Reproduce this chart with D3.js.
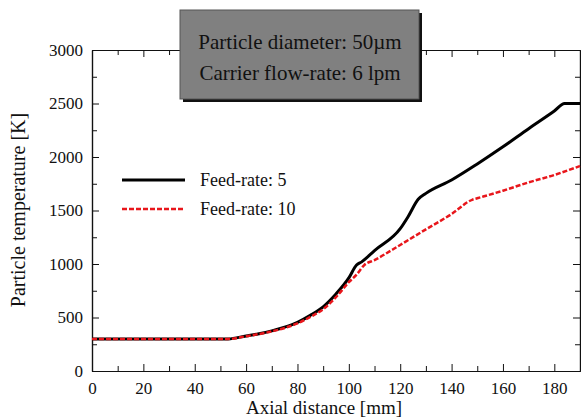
<!DOCTYPE html>
<head>
  <meta charset="utf-8">
  <script src="https://d3js.org/d3.v7.min.js"></script>
  <style>
    body { margin:0; background:white; }
    svg, svg text { font-family: "Liberation Serif", "Times New Roman", serif; }
  </style>
</head>
<body>
  <script>
    // Feed-rate 5
    var dist5 = [0, 20, 40, 53, 60, 65, 70, 75, 80, 85, 90, 95, 100, 103, 105, 110, 120, 123, 127, 130, 140, 150, 160, 170, 180, 184, 190];
    var temp5 = [300, 300, 300, 300, 328, 348, 375, 410, 455, 520, 600, 720, 870, 990, 1020, 1125, 1330, 1440, 1605, 1660, 1785, 1935, 2095, 2265, 2430, 2500, 2500];
    // Feed-rate 10
    var dist10 = [0, 20, 40, 53, 60, 65, 70, 75, 80, 85, 90, 95, 100, 103, 106, 110, 120, 130, 140, 148, 150, 160, 170, 180, 190];
    var temp10 = [300, 300, 300, 300, 325, 345, 370, 402, 445, 505, 578, 690, 830, 900, 990, 1037, 1178, 1324, 1467, 1600, 1614, 1685, 1763, 1832, 1916];
    var legendLabels = ["Feed-rate: 5", "Feed-rate: 10"];
    var boxLines = ["Particle diameter: 50\u00b5m", "Carrier flow-rate: 6 lpm"];

    var svg = d3.select("body").append("svg")
      .attr("width", 581)
      .attr("height", 418)

    var mLeft = 92, mRight = 580, mTop = 50, mBottom = 371;

    var x = d3.scaleLinear().domain([0, 190]).range([mLeft, mRight])
    var y = d3.scaleLinear().domain([0, 3000]).range([mBottom, mTop])

    // minor ticks
    var xMinor = d3.range(10, 190, 20), yMinor = d3.range(250, 3000, 500);

    svg.append("g")
      .attr("transform", "translate(0," + mBottom + ")")
      .call(d3.axisBottom(x).tickValues(d3.range(0, 190, 20)).tickSizeInner(-7).tickSizeOuter(0).tickPadding(11))
    svg.append("g")
      .attr("transform", "translate(0," + mBottom + ")")
      .call(d3.axisBottom(x).tickValues(xMinor).tickSizeInner(-5).tickSizeOuter(0).tickFormat(""))
    svg.append("g")
      .attr("transform", "translate(0," + mTop + ")")
      .call(d3.axisTop(x).tickValues(d3.range(0, 190, 20)).tickSizeInner(-7).tickSizeOuter(0).tickFormat(""))
    svg.append("g")
      .attr("transform", "translate(0," + mTop + ")")
      .call(d3.axisTop(x).tickValues(xMinor).tickSizeInner(-5).tickSizeOuter(0).tickFormat(""))

    svg.append("g")
      .attr("transform", "translate(" + mLeft + ",0)")
      .call(d3.axisLeft(y).tickValues(d3.range(0, 3001, 500)).tickFormat(d3.format("d")).tickSizeInner(-7).tickSizeOuter(0).tickPadding(9))
    svg.append("g")
      .attr("transform", "translate(" + mLeft + ",0)")
      .call(d3.axisLeft(y).tickValues(yMinor).tickSizeInner(-5).tickSizeOuter(0).tickFormat(""))
    svg.append("g")
      .attr("transform", "translate(" + mRight + ",0)")
      .call(d3.axisRight(y).tickValues(d3.range(0, 3001, 500)).tickSizeInner(-7).tickSizeOuter(0).tickFormat(""))
    svg.append("g")
      .attr("transform", "translate(" + mRight + ",0)")
      .call(d3.axisRight(y).tickValues(yMinor).tickSizeInner(-5).tickSizeOuter(0).tickFormat(""))

    svg.selectAll("g").attr("font-family", null)
    svg.selectAll(".domain").attr("stroke", "#111").attr("stroke-width", 1.2)
    svg.selectAll(".tick line").attr("stroke", "#111")
    svg.selectAll(".tick text")
      .attr("font-size", 17)
      .attr("fill", "#111")

    var line = d3.line()
      .x(function(d) { return x(d[0]); })
      .y(function(d) { return y(d[1]); })
      .curve(d3.curveMonotoneX)

    svg.append("path")
      .datum(d3.zip(dist5, temp5))
      .attr("d", line)
      .attr("fill", "none")
      .attr("stroke", "black")
      .attr("stroke-width", 3)

    svg.append("path")
      .datum(d3.zip(dist10, temp10))
      .attr("d", line)
      .attr("fill", "none")
      .attr("stroke", "#e8161b")
      .attr("stroke-width", 2.5)
      .attr("stroke-dasharray", "5,2")

    // legend
    var lg = svg.selectAll(".legend").data(legendLabels).enter().append("g")
      .attr("transform", function(d, i) { return "translate(0," + (180 + i * 29) + ")"; })
    lg.append("line")
      .attr("x1", 122).attr("x2", 185)
      .attr("stroke", function(d, i) { return i ? "#e8161b" : "black"; })
      .attr("stroke-width", function(d, i) { return i ? 2.5 : 3; })
      .attr("stroke-dasharray", function(d, i) { return i ? "5,2" : null; })
    lg.append("text")
      .attr("x", 200).attr("y", 6)
      .style("font-size", "18px")
      .attr("fill", "#111")
      .text(function(d) { return d; })

    // annotation box
    svg.append("rect")
      .attr("x", 183).attr("y", 13).attr("width", 239).attr("height", 89)
      .attr("fill", "#111")
    svg.append("rect")
      .attr("x", 180).attr("y", 10).attr("width", 239).attr("height", 89)
      .attr("fill", "#808080")
      .attr("stroke", "#555").attr("stroke-width", 1)
    svg.selectAll(".boxtext").data(boxLines).enter().append("text")
      .attr("x", 300).attr("y", function(d, i) { return 49 + i * 31; })
      .attr("text-anchor", "middle")
      .style("font-size", "21px")
      .attr("fill", "#111")
      .text(function(d) { return d; })

    // axis titles
    svg.append("text")
      .attr("x", 324).attr("y", 414)
      .attr("text-anchor", "middle")
      .style("font-size", "19px")
      .attr("fill", "#111")
      .text("Axial distance [mm]")
    svg.append("text")
      .attr("transform", "translate(25,210) rotate(-90)")
      .attr("text-anchor", "middle")
      .style("font-size", "20px")
      .attr("fill", "#111")
      .text("Particle temperature [K]")
  </script>
</body>
